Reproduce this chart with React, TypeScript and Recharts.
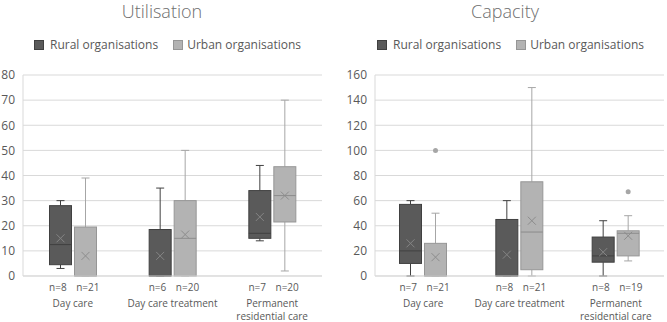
import { Bar, CartesianGrid, ComposedChart, XAxis, YAxis } from "recharts";

const FONT = "'Open Sans', 'Noto Sans', sans-serif";
const TEXT = "#595959";

const categories = ["Day care", "Day care treatment", "Permanent residential care"];

// Utilisation: whisker low, Q1, median, Q3, whisker high, mean, sample size
const utilRuralMin = [3, 0, 14];
const utilRuralQ1 = [4.5, 0, 15];
const utilRuralMedian = [12.5, 0, 17];
const utilRuralQ3 = [28, 18.5, 34];
const utilRuralMax = [30, 35, 44];
const utilRuralMean = [15, 8, 23.5];
const utilRuralN = [8, 6, 7];

const utilUrbanMin = [0, 0, 2];
const utilUrbanQ1 = [0, 0, 21.5];
const utilUrbanMedian = [0, 15, 32];
const utilUrbanQ3 = [19.5, 30, 43.5];
const utilUrbanMax = [39, 50, 70];
const utilUrbanMean = [8, 16.5, 32];
const utilUrbanN = [21, 20, 20];

// Capacity
const capRuralMin = [0, 0, 0];
const capRuralQ1 = [10, 0, 11];
const capRuralMedian = [20, 0, 16];
const capRuralQ3 = [57, 45, 31];
const capRuralMax = [60, 60, 44];
const capRuralMean = [26, 17, 19];
const capRuralN = [7, 8, 8];

const capUrbanMin = [0, 0, 12];
const capUrbanQ1 = [0, 5, 16];
const capUrbanMedian = [0, 35, 34];
const capUrbanQ3 = [26, 75, 36];
const capUrbanMax = [50, 150, 48];
const capUrbanMean = [15, 44, 32];
const capUrbanN = [21, 21, 19];
const capUrbanOutliers = [[100], [], [67]];

const utilTicks = [0, 10, 20, 30, 40, 50, 60, 70, 80];
const capTicks = [0, 20, 40, 60, 80, 100, 120, 140, 160];

type Stats = {
  min: number;
  q1: number;
  median: number;
  q3: number;
  max: number;
  mean: number;
  n: number;
  outliers: number[];
  lo: number;
  hi: number;
};

const makeStats = (
  min: number[],
  q1: number[],
  median: number[],
  q3: number[],
  max: number[],
  mean: number[],
  n: number[],
  outliers: number[][] = [],
) =>
  min.map((_, i) => {
    const out = outliers[i] ?? [];
    return {
      min: min[i],
      q1: q1[i],
      median: median[i],
      q3: q3[i],
      max: max[i],
      mean: mean[i],
      n: n[i],
      outliers: out,
      lo: Math.min(min[i], ...out),
      hi: Math.max(max[i], ...out),
    } as Stats;
  });

const buildRows = (rural: Stats[], urban: Stats[]) =>
  categories.map((category, i) => ({ category, rural: rural[i], urban: urban[i] }));

const utilRows = buildRows(
  makeStats(utilRuralMin, utilRuralQ1, utilRuralMedian, utilRuralQ3, utilRuralMax, utilRuralMean, utilRuralN),
  makeStats(utilUrbanMin, utilUrbanQ1, utilUrbanMedian, utilUrbanQ3, utilUrbanMax, utilUrbanMean, utilUrbanN),
);

const capRows = buildRows(
  makeStats(capRuralMin, capRuralQ1, capRuralMedian, capRuralQ3, capRuralMax, capRuralMean, capRuralN),
  makeStats(capUrbanMin, capUrbanQ1, capUrbanMedian, capUrbanQ3, capUrbanMax, capUrbanMean, capUrbanN, capUrbanOutliers),
);

type Palette = { fill: string; stroke: string; whisker: string; median: string; mean: string };

const RURAL: Palette = { fill: "#5a5a5a", stroke: "#404040", whisker: "#404040", median: "#404040", mean: "#858585" };
const URBAN: Palette = { fill: "#b3b3b3", stroke: "#969696", whisker: "#a6a6a6", median: "#8c8c8c", mean: "#8c8c8c" };

// The bar spans the whisker range [lo, hi]; everything else is placed along that span.
const BoxShape = (props: any) => {
  const { x, y, width, height, stats, pal } = props as { x: number; y: number; width: number; height: number; stats: Stats; pal: Palette };
  if (!stats) return null;
  const top = Math.min(y, y + height);
  const bottom = Math.max(y, y + height);
  const span = stats.hi - stats.lo || 1;
  const py = (v: number) => bottom - ((v - stats.lo) / span) * (bottom - top);
  const cx = x + width / 2;
  const cap = 4;
  const m = 4;
  const yMean = py(stats.mean);
  return (
    <g>
      <line x1={cx} x2={cx} y1={py(stats.max)} y2={py(stats.q3)} stroke={pal.whisker} />
      <line x1={cx} x2={cx} y1={py(stats.q1)} y2={py(stats.min)} stroke={pal.whisker} />
      <line x1={cx - cap} x2={cx + cap} y1={py(stats.max)} y2={py(stats.max)} stroke={pal.whisker} />
      <line x1={cx - cap} x2={cx + cap} y1={py(stats.min)} y2={py(stats.min)} stroke={pal.whisker} />
      <rect
        x={x + 0.5}
        y={py(stats.q3)}
        width={width - 1}
        height={Math.max(0, py(stats.q1) - py(stats.q3))}
        fill={pal.fill}
        stroke={pal.stroke}
      />
      <line x1={x + 0.5} x2={x + width - 0.5} y1={py(stats.median)} y2={py(stats.median)} stroke={pal.median} />
      <line x1={cx - m} x2={cx + m} y1={yMean - m} y2={yMean + m} stroke={pal.mean} />
      <line x1={cx - m} x2={cx + m} y1={yMean + m} y2={yMean - m} stroke={pal.mean} />
      {stats.outliers.map((o, i) => (
        <circle key={i} cx={cx} cy={py(o)} r={2.5} fill="#a6a6a6" />
      ))}
    </g>
  );
};

const wrapLabel = (s: string) => {
  if (s.length <= 20) return [s];
  const cut = s.indexOf(" ");
  return [s.slice(0, cut), s.slice(cut + 1)];
};

const makeTick = (rows: { rural: Stats; urban: Stats }[]) => (props: any) => {
  const { x, y, payload } = props;
  const row = rows[payload.index];
  const lines = wrapLabel(String(payload.value));
  return (
    <g fill={TEXT} fontFamily={FONT} fontSize={10}>
      <text x={x - 15} y={y + 7} textAnchor="middle">{`n=${row.rural.n}`}</text>
      <text x={x + 15} y={y + 7} textAnchor="middle">{`n=${row.urban.n}`}</text>
      {lines.map((l, i) => (
        <text key={i} x={x} y={y + 23 + i * 13} textAnchor="middle">
          {l}
        </text>
      ))}
    </g>
  );
};

const BoxChart = ({
  rows,
  ticks,
  width,
  yWidth,
  right,
}: {
  rows: { category: string; rural: Stats; urban: Stats }[];
  ticks: number[];
  width: number;
  yWidth: number;
  right: number;
}) => (
  <ComposedChart
    width={width}
    height={322}
    data={rows}
    margin={{ top: 75, right, left: 0, bottom: 0 }}
    barGap={2}
    barSize={23}
  >
    <CartesianGrid vertical={false} stroke="#d9d9d9" />
    <XAxis
      dataKey="category"
      height={46}
      axisLine={{ stroke: "#d9d9d9" }}
      tickLine={false}
      interval={0}
      tick={makeTick(rows)}
    />
    <YAxis
      width={yWidth}
      domain={[ticks[0], ticks[ticks.length - 1]]}
      ticks={ticks}
      axisLine={{ stroke: "#d9d9d9" }}
      tickLine={false}
      tick={{ fill: TEXT, fontSize: 12, fontFamily: FONT }}
    />
    <Bar
      dataKey={(d: any) => [d.rural.lo, d.rural.hi]}
      name="Rural organisations"
      fill={RURAL.fill}
      isAnimationActive={false}
      shape={(p: any) => <BoxShape {...p} stats={p.payload.rural} pal={RURAL} />}
    />
    <Bar
      dataKey={(d: any) => [d.urban.lo, d.urban.hi]}
      name="Urban organisations"
      fill={URBAN.fill}
      isAnimationActive={false}
      shape={(p: any) => <BoxShape {...p} stats={p.payload.urban} pal={URBAN} />}
    />
  </ComposedChart>
);

const LegendRow = ({ left }: { left: number }) => (
  <div style={{ position: "absolute", left, top: 36, display: "flex", alignItems: "center", fontSize: 12, color: TEXT }}>
    <span style={{ width: 10, height: 10, background: RURAL.fill, border: `1px solid ${RURAL.stroke}`, boxSizing: "border-box", marginRight: 6 }} />
    <span style={{ marginRight: 15 }}>Rural organisations</span>
    <span style={{ width: 10, height: 10, background: URBAN.fill, border: `1px solid ${URBAN.stroke}`, boxSizing: "border-box", marginRight: 4 }} />
    <span>Urban organisations</span>
  </div>
);

const Title = ({ text, center }: { text: string; center: number }) => (
  <div
    style={{
      position: "absolute",
      left: center - 100,
      width: 200,
      top: -1,
      textAlign: "center",
      fontSize: 18,
      fontWeight: 300,
      color: "#6e6e6e",
    }}
  >
    {text}
  </div>
);

export default function App() {
  return (
    <div style={{ position: "absolute", left: 0, top: 0, width: 667, height: 322, background: "#fff", fontFamily: FONT, overflow: "hidden" }}>
      <Title text="Utilisation" center={162} />
      <Title text="Capacity" center={505} />
      <LegendRow left={34} />
      <LegendRow left={377} />
      <div style={{ position: "absolute", left: 0, top: 0 }}>
        <BoxChart rows={utilRows} ticks={utilTicks} width={334} yWidth={23} right={12} />
      </div>
      <div style={{ position: "absolute", left: 334, top: 0 }}>
        <BoxChart rows={capRows} ticks={capTicks} width={333} yWidth={41} right={3} />
      </div>
    </div>
  );
}
